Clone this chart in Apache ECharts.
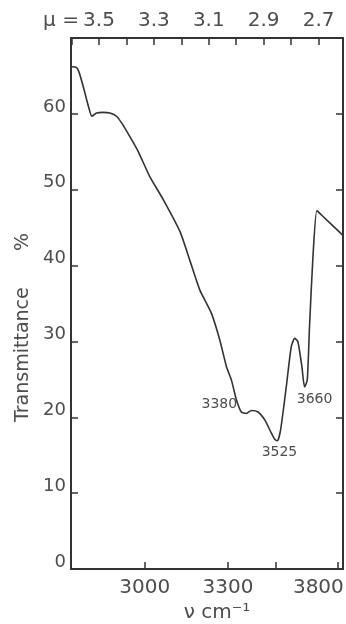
<!DOCTYPE html>
<html>
<head>
<meta charset="utf-8">
<script src="https://cdn.jsdelivr.net/npm/echarts@6/dist/echarts.min.js"></script>
<style>
html,body{margin:0;padding:0;background:#fff;}
#chart{width:346px;height:624px;}
</style>
</head>
<body>
<div id="chart"></div>
<script>
// Wavenumber (cm^-1) of each traced point and transmittance (%)
var wavenumbers = [2778, 2792, 2799, 2811, 2826, 2836, 2850, 2869, 2890, 2911, 2930, 2952, 2978, 3017, 3062, 3120, 3155, 3192, 3236, 3268, 3294, 3314, 3334, 3354, 3375, 3396, 3424, 3453, 3482, 3497, 3509, 3523, 3549, 3572, 3588, 3603, 3622, 3635, 3648, 3659, 3675, 3695, 3717, 3827];
var transmittance = [66.2, 66.1, 65.5, 63.6, 61.0, 59.7, 60.1, 60.2, 60.1, 59.65, 58.55, 57.0, 55.1, 51.7, 48.7, 44.5, 40.75, 36.8, 33.7, 30.2, 26.7, 24.9, 22.3, 20.7, 20.5, 20.9, 20.7, 19.65, 17.9, 17.1, 16.9, 18.3, 24.0, 29.3, 30.4, 30.0, 26.7, 24.0, 24.9, 31.95, 40.75, 47.25, 46.7, 44.05];

// Axis ticks
var muTicks = [3.6, 3.5, 3.4, 3.3, 3.2, 3.1, 3.0, 2.9, 2.8, 2.7];
var muLabels = [3.5, 3.3, 3.1, 2.9, 2.7];
var wnTicks = [3000, 3300, 3500, 3800];
var wnLabels = [3000, 3300, 3800];
var yTicks = [0, 10, 20, 30, 40, 50, 60, 70];

// Peak annotations
var annotText = ['3380', '3525', '3660'];
var annotWn = [3354, 3509, 3635];
var annotOffsets = [[-22, -8], [2, 12], [10, 12]];

var MU_MIN = 2.611, MU_MAX = 3.602;
var lineColor = '#333';
var textColor = '#4d4d4d';
var font = 'DejaVu Sans';

var data = wavenumbers.map(function (w, i) { return [10000 / w, transmittance[i]]; });

var markData = annotText.map(function (t, k) {
  var idx = wavenumbers.indexOf(annotWn[k]);
  return {
    name: t,
    coord: [10000 / annotWn[k], transmittance[idx]],
    label: { offset: annotOffsets[k] }
  };
});

var chart = echarts.init(document.getElementById('chart'), null, { renderer: 'canvas' });

var commonX = {
  type: 'value',
  inverse: true,
  min: MU_MIN,
  max: MU_MAX,
  splitLine: { show: false },
  axisLine: { show: true, onZero: false, lineStyle: { color: lineColor, width: 2 } }
};

var option = {
  backgroundColor: '#fff',
  animation: false,
  grid: { left: 71, right: 3, top: 38, bottom: 55, containLabel: false, outerBoundsMode: 'none' },
  xAxis: [
    Object.assign({}, commonX, {
      position: 'top',
      axisTick: { show: true, inside: true, length: 7, customValues: muTicks, lineStyle: { color: lineColor, width: 1.5 } },
      axisLabel: {
        show: true,
        customValues: muLabels,
        margin: 7,
        color: textColor,
        fontFamily: font,
        fontSize: 20,
        hideOverlap: false,
        formatter: function (v) {
          var s = v.toFixed(1);
          if (Math.abs(v - muLabels[0]) < 1e-6) return '{p|\u03BC = }' + s + '{q|}';
          return s;
        },
        rich: {
          p: { width: 40, align: 'left', color: textColor, fontFamily: font, fontSize: 20 },
          q: { width: 40 }
        }
      }
    }),
    Object.assign({}, commonX, {
      position: 'bottom',
      name: '\u03BD cm\u207B\u00B9',
      nameLocation: 'middle',
      nameGap: 34,
      nameTextStyle: { color: textColor, fontFamily: font, fontSize: 20, padding: [0, 0, 0, 20] },
      axisTick: { show: true, inside: true, length: 7, customValues: wnTicks.map(function (w) { return 10000 / w; }), lineStyle: { color: lineColor, width: 1.5 } },
      axisLabel: {
        show: true,
        customValues: wnLabels.map(function (w) { return 10000 / w; }),
        margin: 9,
        color: textColor,
        fontFamily: font,
        fontSize: 20,
        hideOverlap: false,
        formatter: function (v) {
          var w = Math.round(10000 / v);
          if (w === wnLabels[wnLabels.length - 1]) return w + '{s|}';
          return String(w);
        },
        rich: { s: { width: 38 } }
      }
    })
  ],
  yAxis: [
    {
      type: 'value',
      position: 'left',
      min: 0, max: 70, interval: 10,
      name: 'Transmittance      %',
      nameLocation: 'middle',
      nameGap: 38,
      nameTextStyle: { color: textColor, fontFamily: font, fontSize: 19, padding: [0, 48, 0, 0] },
      splitLine: { show: false },
      axisLine: { show: true, lineStyle: { color: lineColor, width: 2 } },
      axisTick: { show: true, inside: true, length: 7, lineStyle: { color: lineColor, width: 1.5 } },
      axisLabel: {
        show: true,
        showMaxLabel: false,
        margin: 5,
        color: textColor,
        fontFamily: font,
        fontSize: 18,
        lineHeight: 14,
        verticalAlign: 'bottom',
        formatter: function (v) { return yTicks.indexOf(v) >= 0 && v < 70 ? String(v) : ''; }
      }
    },
    {
      type: 'value',
      position: 'right',
      min: 0, max: 70, interval: 10,
      splitLine: { show: false },
      axisLine: { show: true, lineStyle: { color: lineColor, width: 2 } },
      axisTick: { show: true, inside: true, length: 7, lineStyle: { color: lineColor, width: 1.5 } },
      axisLabel: { show: false }
    }
  ],
  series: [
    {
      type: 'line',
      xAxisIndex: 0,
      yAxisIndex: 0,
      data: data,
      showSymbol: false,
      symbol: 'none',
      smooth: 0.2,
      lineStyle: { color: lineColor, width: 1.6 },
      markPoint: {
        symbol: 'circle',
        symbolSize: 0,
        data: markData,
        label: {
          show: true,
          position: 'inside',
          formatter: '{b}',
          color: textColor,
          fontFamily: font,
          fontSize: 14
        }
      }
    }
  ]
};

chart.setOption(option);
</script>
</body>
</html>
